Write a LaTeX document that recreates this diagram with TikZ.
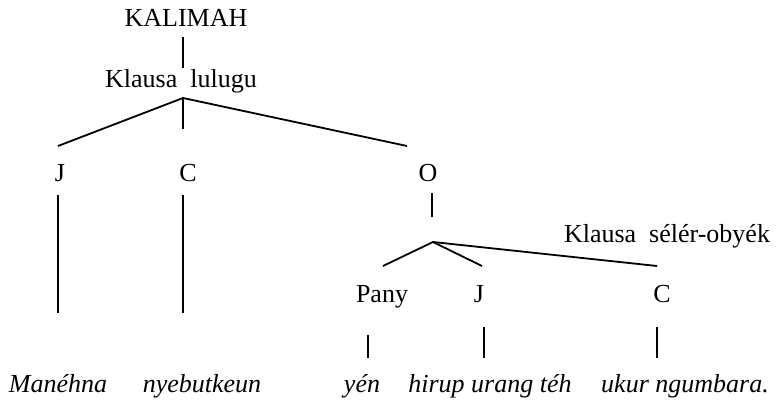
\documentclass[tikz,border=0pt]{standalone}
\usepackage{fontspec}
\setmainfont{Liberation Serif}

\begin{document}
\begin{tikzpicture}[x=0.5pt,y=-0.5pt, line width=0.9pt]
                \tikzstyle{every node}=[inner sep=0pt, anchor=base, font=\fontsize{13}{15}\selectfont]
                \tikzstyle{kecap}=[font=\fontsize{13}{15}\selectfont\itshape]
                \useasboundingbox (0,0) rectangle (779,401);
                % klausa lulugu
                \node (kalimah) at (186,27) {KALIMAH};
                \node (lulugu) at (181,88) {Klausa\ \ lulugu};
                \node (j1) at (60,181) {J};
                \node (c1) at (188,181) {C};
                \node (o1) at (428,181) {O};
                % klausa sélér-obyék
                \node (seler) at (667,242) {Klausa\ \ sélér-obyék};
                \node (pany) at (382,302) {Pany};
                \node (j2) at (479,302) {J};
                \node (c2) at (662,302) {C};
                % kecap-kecapna
                \node[kecap] (w1) at (58,392) {Manéhna};
                \node[kecap] (w2) at (202,392) {nyebutkeun};
                \node[kecap] (w3) at (362,392) {yén};
                \node[kecap] (w4) at (490,392) {hirup urang téh};
                \node[kecap] (w5) at (685,392) {ukur ngumbara.};
                % titik-titik cabang
                \coordinate (k1) at (183,37);
                \coordinate (k2) at (183,68);
                \coordinate (t1) at (183,98);
                \coordinate (t1j) at (58,146);
                \coordinate (t1c) at (183,129);
                \coordinate (t1o) at (407,146);
                \coordinate (o2) at (432,193);
                \coordinate (o3) at (432,217);
                \coordinate (t2) at (433,242);
                \coordinate (t2p) at (383,266);
                \coordinate (t2j) at (482,266);
                \coordinate (t2c) at (657,266);
                % garis ka kecap
                \coordinate (j1a) at (58,195);
                \coordinate (j1b) at (58,313);
                \coordinate (c1a) at (183,195);
                \coordinate (c1b) at (183,313);
                \coordinate (pa) at (368,335);
                \coordinate (pb) at (368,358);
                \coordinate (j2a) at (484,327);
                \coordinate (j2b) at (484,358);
                \coordinate (c2a) at (657,327);
                \coordinate (c2b) at (657,358);
                \draw (k1)--(k2);
                \draw (t1j)--(t1)--(t1o);
                \draw (t1)--(t1c);
                \draw (j1a)--(j1b);
                \draw (c1a)--(c1b);
                \draw (o2)--(o3);
                \draw (t2p)--(t2)--(t2j);
                \draw (t2)--(t2c);
                \draw (pa)--(pb);
                \draw (j2a)--(j2b);
                \draw (c2a)--(c2b);
            \end{tikzpicture}
\end{document}
